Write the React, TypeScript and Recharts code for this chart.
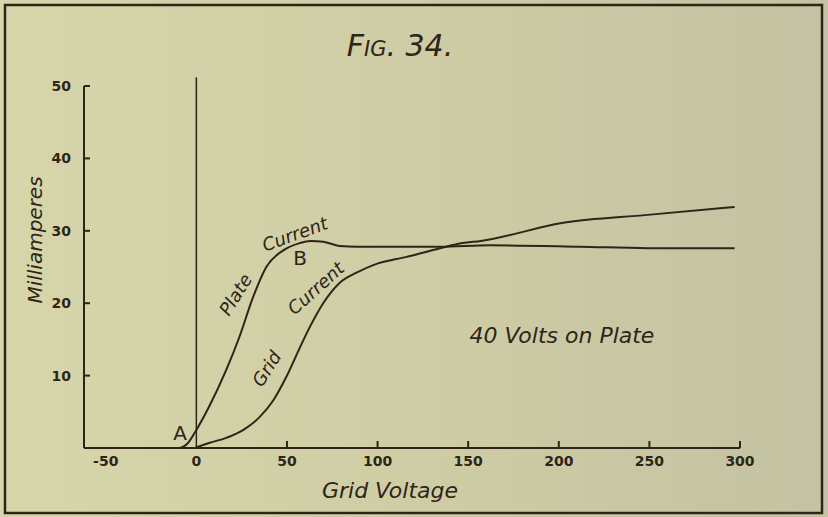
import { LineChart, Line, XAxis, YAxis, ReferenceLine } from "recharts";

// Fig. 34 – plate and grid current vs grid voltage, 40 volts on plate
const plateVolts = [-62, -10, -5, 0, 7, 16.5, 23.7, 31.4, 38.6, 48, 57, 63, 70, 79, 89, 108, 134.5, 162, 212, 249, 297];
const plateMilliamps = [0, 0, 0.6, 2.5, 5.7, 10.8, 15.3, 20.9, 25.0, 27.3, 28.3, 28.6, 28.5, 27.9, 27.8, 27.8, 27.8, 28.0, 27.8, 27.6, 27.6];

const gridVolts = [0, 7, 16.5, 26, 35, 42.5, 49.6, 57, 63, 70, 79, 89, 98, 116, 134.5, 147, 157, 202.5, 249, 297];
const gridMilliamps = [0.1, 0.7, 1.4, 2.5, 4.3, 6.6, 9.8, 13.8, 16.9, 20.0, 22.8, 24.3, 25.3, 26.4, 27.6, 28.3, 28.6, 31.1, 32.2, 33.3];

const voltTicks = [-50, 0, 50, 100, 150, 200, 250, 300];
const milliampTicks = [10, 20, 30, 40, 50];

const plateData = plateVolts.map((v, i) => ({ volts: v, mA: plateMilliamps[i] }));
const gridData = gridVolts.map((v, i) => ({ volts: v, mA: gridMilliamps[i] }));

const INK = "#2e2418";
const HAND = "'DejaVu Sans', sans-serif";
const X_GAP = 8;
const Y_GAP = 13;

// tick marks point inward on the original, so draw them with the label
function VoltTick(props: any) {
  const { x, y, payload } = props;
  const v = payload.value;
  return (
    <g>
      {v > 0 && <line x1={x} x2={x} y1={y - X_GAP} y2={y - X_GAP - 7} stroke={INK} strokeWidth={2} />}
      <text x={x} y={y} dy="0.71em" textAnchor="middle" fill={INK} fontFamily={HAND} fontWeight={700} fontSize={14}>
        {v}
      </text>
    </g>
  );
}

function MilliampTick(props: any) {
  const { x, y, payload } = props;
  return (
    <g>
      <line x1={x + Y_GAP} x2={x + Y_GAP + 6} y1={y} y2={y} stroke={INK} strokeWidth={2} />
      <text x={x} y={y} dy="0.355em" textAnchor="end" fill={INK} fontFamily={HAND} fontWeight={700} fontSize={14}>
        {payload.value}
      </text>
    </g>
  );
}

export default function App() {
  return (
    <div
      style={{
        position: "absolute",
        left: 0,
        top: 0,
        width: 828,
        height: 517,
        background: "linear-gradient(90deg, #d7d5aa 0%, #cfcda5 50%, #c3c2a2 100%)",
      }}
    >
      <LineChart
        width={828}
        height={517}
        data={plateData}
        margin={{ top: 86, right: 88, bottom: 29, left: 24 }}
      >
        <XAxis
          type="number"
          dataKey="volts"
          domain={[-62, 300]}
          ticks={voltTicks}
          allowDataOverflow
          height={40}
          stroke={INK}
          strokeWidth={2}
          tickLine={false}
          tickSize={0}
          tickMargin={X_GAP}
          tick={<VoltTick />}
        />
        <YAxis
          type="number"
          dataKey="mA"
          domain={[0, 50]}
          ticks={milliampTicks}
          width={60}
          stroke={INK}
          strokeWidth={2}
          tickLine={false}
          tickSize={0}
          tickMargin={Y_GAP}
          tick={<MilliampTick />}
        />
        <ReferenceLine
          segment={[{ x: 0, y: 0 }, { x: 0, y: 51.2 }]}
          stroke={INK}
          strokeWidth={1.5}
          ifOverflow="visible"
        />
        <Line
          data={plateData}
          dataKey="mA"
          type="monotone"
          stroke={INK}
          strokeWidth={2}
          dot={false}
          isAnimationActive={false}
        />
        <Line
          data={gridData}
          dataKey="mA"
          type="monotone"
          stroke={INK}
          strokeWidth={2}
          dot={false}
          isAnimationActive={false}
        />
      </LineChart>
      <svg
        width={828}
        height={517}
        style={{ position: "absolute", left: 0, top: 0, pointerEvents: "none" }}
      >
        <rect x={5} y={5} width={817} height={508} fill="none" stroke={INK} strokeWidth={2.5} />
        <g fill={INK} fontFamily={HAND} fontStyle="italic">
          <text x={400} y={56} fontSize={30} textAnchor="middle" style={{ fontVariant: "small-caps" }}>
            Fig. 34.
          </text>
          <text x={390} y={498} fontSize={22} textAnchor="middle">
            Grid Voltage
          </text>
          <text x={42} y={240} fontSize={20} textAnchor="middle" transform="rotate(-90 42 240)">
            Milliamperes
          </text>
          <text x={562} y={343} fontSize={22} textAnchor="middle">
            40 Volts on Plate
          </text>
          <text x={241} y={298} fontSize={18} textAnchor="middle" transform="rotate(-58 241 298)">
            Plate
          </text>
          <text x={297} y={240} fontSize={18} textAnchor="middle" transform="rotate(-20 297 240)">
            Current
          </text>
          <text x={272} y={372} fontSize={18} textAnchor="middle" transform="rotate(-58 272 372)">
            Grid
          </text>
          <text x={320} y={293} fontSize={18} textAnchor="middle" transform="rotate(-42 320 293)">
            Current
          </text>
        </g>
        <g fill={INK} fontFamily={HAND} fontSize={20}>
          <text x={180} y={440} textAnchor="middle">A</text>
          <text x={300} y={265} textAnchor="middle">B</text>
        </g>
      </svg>
    </div>
  );
}
